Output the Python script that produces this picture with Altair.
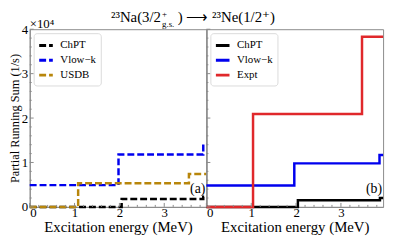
import altair as alt
import pandas as pd

FONT = "Liberation Serif"
XMAX = 3.94
W, H = 179, 180
GREY = "#8a8a8a"

# ---- panel (a): shell-model results (units of 1e4 1/s)
series_a = ["ChPT", "Vlow−k", "USDB"]
colors_a = ["black", "#0000ee", "#b8860b"]
a_x = [[0, 2.05, 3.87, XMAX], [0, 1.98, 3.87, XMAX], [0, 1.08, 3.55, XMAX]]
a_y = [[0, 0.18, 0.23, 0.23], [0.49, 1.18, 1.41, 1.41], [0, 0.53, 0.74, 0.74]]

# ---- panel (b)
series_b = ["ChPT", "Vlow−k", "Expt"]
colors_b = ["black", "#0000ee", "#e0282b"]
b_x = [[0, 2.04, 3.87, XMAX], [0, 1.96, 3.86, XMAX], [0, 1.04, 3.47, XMAX]]
b_y = [[0, 0.15, 0.20, 0.20], [0.48, 0.98, 1.17, 1.17], [0, 2.09, 3.83, 3.83]]

y_major = [0, 1, 2, 3, 4]
y_minor = [0.2, 0.4, 0.6, 0.8, 1.2, 1.4, 1.6, 1.8, 2.2, 2.4, 2.6, 2.8,
           3.2, 3.4, 3.6, 3.8]
x_major = [0, 1, 2, 3]
x_minor = [0.2, 0.4, 0.6, 0.8, 1.2, 1.4, 1.6, 1.8, 2.2, 2.4, 2.6, 2.8,
           3.2, 3.4, 3.6, 3.8]

xscale = alt.Scale(domain=[0, XMAX], nice=False, zero=False)
yscale = alt.Scale(domain=[0, 4], nice=False)


def panel(names, colors, xs, ys, dash, left, tag):
    layers = []
    leg = alt.Legend(title=None, orient="top-left", offset=4,
                     symbolType="stroke", symbolDash=dash if dash else [1, 0],
                     symbolStrokeWidth=3, symbolSize=190,
                     labelFont=FONT, labelFontSize=11, labelOffset=6,
                     fillColor="white", strokeColor="#dadada",
                     cornerRadius=3, padding=4, rowPadding=0)
    if left:
        yax = alt.Axis(values=y_major, format="d", ticks=False,
                       title="Partial Running Sum (1/s)", labelPadding=2,
                       titlePadding=0, titleFontSize=12.5)
    else:
        yax = alt.Axis(labels=False, ticks=False, title=None)
    xax = alt.Axis(values=x_major, format="d", ticks=False,
                   title="Excitation energy (MeV)", labelPadding=0,
                   titlePadding=0, titleFontSize=15)
    for n, xl, yl in zip(names, xs, ys):
        df = pd.DataFrame({"x": xl, "y": yl, "s": [n] * len(xl)})
        props = dict(interpolate="step-after", strokeWidth=2.5)
        if dash:
            props["strokeDash"] = dash
        layers.append(
            alt.Chart(df).mark_line(**props).encode(
                x=alt.X("x:Q", scale=xscale, axis=xax),
                y=alt.Y("y:Q", scale=yscale, axis=yax),
                color=alt.Color("s:N", scale=alt.Scale(domain=names, range=colors),
                                legend=leg),
            )
        )
    # inward ticks
    for vals, ln in ((y_major, 4), (y_minor, 2)):
        layers.append(alt.Chart(pd.DataFrame({"y": vals})).mark_rule(
            color=GREY, strokeWidth=1).encode(
            y=alt.Y("y:Q", scale=yscale, axis=yax),
            x=alt.value(0), x2=alt.value(ln)))
    for vals, ln in ((x_major, 4), (x_minor, 2)):
        layers.append(alt.Chart(pd.DataFrame({"x": vals})).mark_rule(
            color=GREY, strokeWidth=1).encode(
            x=alt.X("x:Q", scale=xscale, axis=xax),
            y=alt.value(H), y2=alt.value(H - ln)))
    layers.append(alt.Chart(pd.DataFrame({"t": [tag]})).mark_text(
        font=FONT, fontSize=14, align="right", baseline="middle").encode(
        text="t:N", x=alt.value(W - 1), y=alt.value(162)))
    if left:
        layers.append(alt.Chart(pd.DataFrame({"t": ["×10⁴"]})).mark_text(
            font=FONT, fontSize=13, align="left", baseline="alphabetic").encode(
            text="t:N", x=alt.value(0), y=alt.value(-1)))
        title_parts = [("²³Na(3/2", 133, -7, 15, "right"),
                       ("+", 134, -12, 9, "left"),
                       ("g.s.", 134, -2, 9, "left"),
                       (")  ⟶  ²³Ne(1/2⁺)", 150, -7, 15, "left")]
        for txt, px, py, fs, al in title_parts:
            layers.append(alt.Chart(pd.DataFrame({"t": [txt]})).mark_text(
                font=FONT, fontSize=fs, align=al, baseline="alphabetic").encode(
                text="t:N", x=alt.value(px), y=alt.value(py)))
    return alt.layer(*layers).properties(width=W, height=H)


left = panel(series_a, colors_a, a_x, a_y, [7, 3], True, "(a)")
right = panel(series_b, colors_b, b_x, b_y, None, False, "(b)")

chart = alt.hconcat(left, right, spacing=0, bounds="flush").resolve_scale(
    color="independent").resolve_legend(color="independent").properties(
    padding={"left": 0, "top": 0, "right": 1, "bottom": 0}
).configure_view(stroke=GREY, strokeWidth=1).configure_axis(
    domainColor=GREY, grid=False, labelFont=FONT, labelFontSize=13,
    labelColor="black", titleFont=FONT, titleFontSize=13,
    titleFontWeight="normal", titleColor="black")

chart.save("out.html", embed_options={"renderer": "svg", "actions": False})
